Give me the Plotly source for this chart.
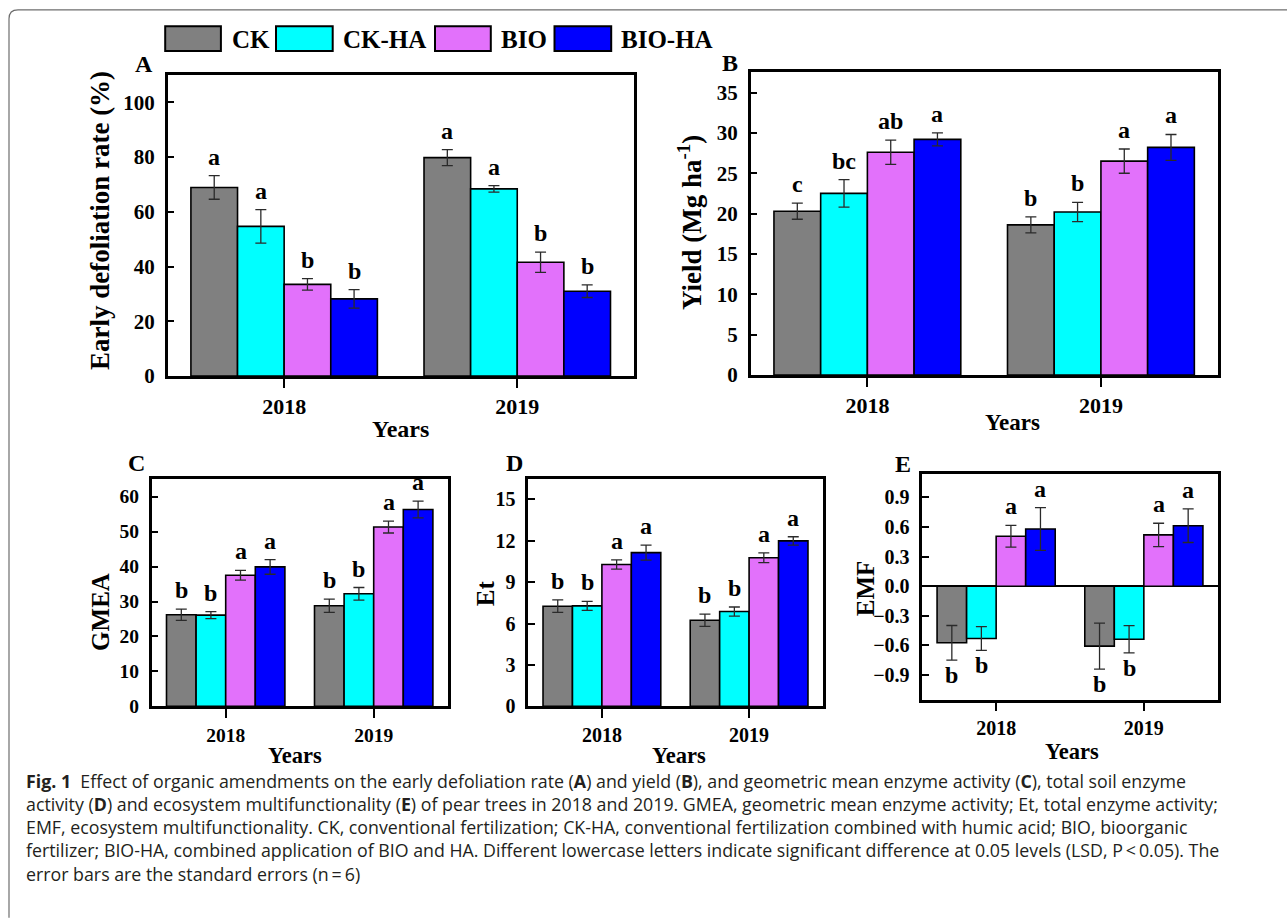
import plotly.graph_objects as go

W, H = 1287, 919
SERIF = "Liberation Serif"
SANS = "Open Sans"

years = ["2018", "2019"]
treatments = ["CK", "CK-HA", "BIO", "BIO-HA"]
bar_colors = ["#808080", "#00FFFF", "#E271FB", "#0000FF"]

# rows = treatments (CK, CK-HA, BIO, BIO-HA), columns = years (2018, 2019)
defol_mean = [[68.9, 79.8], [54.7, 68.4], [33.5, 41.6], [28.2, 31.0]]
defol_se = [[4.3, 2.9], [6.1, 1.2], [2.1, 3.7], [3.4, 2.3]]
defol_letters = [["a", "a"], ["a", "a"], ["b", "b"], ["b", "b"]]

yield_mean = [[20.3, 18.6], [22.5, 20.2], [27.6, 26.5], [29.2, 28.2]]
yield_se = [[1.0, 1.0], [1.7, 1.2], [1.5, 1.5], [0.8, 1.6]]
yield_letters = [["c", "b"], ["bc", "b"], ["ab", "a"], ["a", "a"]]

gmea_mean = [[26.2, 28.8], [26.1, 32.2], [37.5, 51.3], [39.9, 56.3]]
gmea_se = [[1.6, 1.9], [1.0, 1.8], [1.4, 1.7], [2.1, 2.4]]
gmea_letters = [["b", "b"], ["b", "b"], ["a", "a"], ["a", "a"]]

et_mean = [[7.26, 6.24], [7.28, 6.87], [10.28, 10.77], [11.14, 11.99]]
et_se = [[0.45, 0.45], [0.33, 0.33], [0.33, 0.35], [0.55, 0.30]]
et_letters = [["b", "b"], ["b", "b"], ["a", "a"], ["a", "a"]]

emf_mean = [[-0.573, -0.607], [-0.530, -0.537], [0.507, 0.520], [0.580, 0.613]]
emf_se = [[0.175, 0.233], [0.120, 0.138], [0.110, 0.118], [0.217, 0.170]]
emf_letters = [["b", "b"], ["b", "b"], ["a", "a"], ["a", "a"]]

caption_lines = [
    "<b>Fig. 1</b>  Effect of organic amendments on the early defoliation rate (<b>A</b>) and yield (<b>B</b>), and geometric mean enzyme activity (<b>C</b>), total soil enzyme",
    "activity (<b>D</b>) and ecosystem multifunctionality (<b>E</b>) of pear trees in 2018 and 2019. GMEA, geometric mean enzyme activity; Et, total enzyme activity;",
    "EMF, ecosystem multifunctionality. CK, conventional fertilization; CK-HA, conventional fertilization combined with humic acid; BIO, bioorganic",
    "fertilizer; BIO-HA, combined application of BIO and HA. Different lowercase letters indicate significant difference at 0.05 levels (LSD, P\u2009<\u20090.05). The",
    "error bars are the standard errors (n\u2009=\u20096)",
]


def fx(x):
    return x / W


def fy(y):
    return 1 - y / H


# panel layout in pixels: (left, right, top, bottom)
panels = [
    dict(name="A", mean=defol_mean, se=defol_se, letters=defol_letters,
         box=(167.6, 633.8, 76.0, 381.0), yrange=[0, 110], dtick=20, fmt="",
         ytitle="Early defoliation rate (%)", ytitle_pos=(100, 224), ytitle_size=27,
         label_pos=(144, 65), xtitle_pos=(400, 435), xtitle_size=24,
         tick_size=21, xtick_size=22, zero=False),
    dict(name="B", mean=yield_mean, se=yield_se, letters=yield_letters,
         box=(750.6, 1217.7, 73.3, 380.0), yrange=[0, 37.5], dtick=5, fmt="",
         ytitle="Yield (Mg ha<sup>-1</sup>)", ytitle_pos=(690, 226), ytitle_size=27,
         label_pos=(730, 64), xtitle_pos=(1012, 428), xtitle_size=23,
         tick_size=21, xtick_size=22, zero=False),
    dict(name="C", mean=gmea_mean, se=gmea_se, letters=gmea_letters,
         box=(151.7, 447.7, 485.5, 715.7), yrange=[0, 65], dtick=10, fmt="",
         ytitle="GMEA", ytitle_pos=(101, 620), ytitle_size=25,
         label_pos=(136, 469), xtitle_pos=(295, 766), xtitle_size=22.5,
         tick_size=19.5, xtick_size=19.5, zero=False),
    dict(name="D", mean=et_mean, se=et_se, letters=et_letters,
         box=(528.3, 822.7, 485.0, 715.7), yrange=[0, 16.5], dtick=3, fmt="",
         ytitle="Et", ytitle_pos=(485, 601), ytitle_size=25,
         label_pos=(514, 469), xtitle_pos=(679, 766), xtitle_size=22.5,
         tick_size=20, xtick_size=20, zero=False),
    dict(name="E", mean=emf_mean, se=emf_se, letters=emf_letters,
         box=(922.3, 1217.7, 480.0, 709.0), yrange=[-1.15, 1.14], dtick=0.3, fmt=".1f",
         ytitle="EMF", ytitle_pos=(865, 596), ytitle_size=25,
         label_pos=(903, 470), xtitle_pos=(1072, 761), xtitle_size=22.5,
         tick_size=20, xtick_size=20, zero=True),
]

fig = go.Figure()
annotations = []
shapes = []

BARGAP = 0.2
n_tr = len(treatments)
bar_w = (1 - BARGAP) / n_tr

for k, p in enumerate(panels, start=1):
    xa = "x" if k == 1 else f"x{k}"
    ya = "y" if k == 1 else f"y{k}"
    for j, tr in enumerate(treatments):
        fig.add_trace(go.Bar(
            x=years, y=p["mean"][j], name=tr, xaxis=xa, yaxis=ya,
            marker=dict(color=bar_colors[j], line=dict(color="black", width=1.6)),
            error_y=dict(type="data", array=p["se"][j], visible=True,
                         color="#2a2a2a", thickness=1.3, width=5.5),
            showlegend=False, hoverinfo="skip",
        ))
        # significance letters
        for i in range(len(years)):
            m = p["mean"][j][i]
            e = p["se"][j][i]
            pos = m >= 0
            annotations.append(dict(
                x=i + (j - (n_tr - 1) / 2) * bar_w, y=(m + e) if pos else (m - e),
                xref=xa, yref=ya, text="<b>%s</b>" % p["letters"][j][i],
                showarrow=False, xanchor="center",
                yanchor="bottom" if pos else "top", yshift=4 if pos else 0,
                font=dict(family=SERIF, size=24, color="black"),
            ))

    l, r, t, b = p["box"]
    xkey = "xaxis" if k == 1 else f"xaxis{k}"
    ykey = "yaxis" if k == 1 else f"yaxis{k}"
    fig.layout[xkey] = dict(
        domain=[fx(l), fx(r)], anchor=ya, type="category", range=[-0.5, 1.5],
        showline=True, mirror=True, linecolor="black", linewidth=2.5,
        ticks="outside", ticklen=9, tickwidth=2, tickcolor="black",
        showgrid=False, zeroline=False, fixedrange=True,
        tickfont=dict(family=SERIF, size=p["xtick_size"], color="black", weight="bold"),
    )
    fig.layout[ykey] = dict(
        domain=[fy(b), fy(t)], anchor=xa, range=p["yrange"], tick0=0, dtick=p["dtick"],
        tickformat=p["fmt"],
        showline=True, mirror=True, linecolor="black", linewidth=2.5,
        ticks="inside", ticklen=7, tickwidth=2, tickcolor="black",
        showgrid=False, zeroline=p["zero"], zerolinecolor="black", zerolinewidth=2,
        ticklabelstandoff=6, fixedrange=True,
        tickfont=dict(family=SERIF, size=p["tick_size"], color="black", weight="bold"),
    )
    # panel label
    annotations.append(dict(
        x=fx(p["label_pos"][0]), y=fy(p["label_pos"][1]), xref="paper", yref="paper",
        text="<b>%s</b>" % p["name"], showarrow=False, xanchor="center", yanchor="middle",
        font=dict(family=SERIF, size=24, color="black")))
    # y title
    annotations.append(dict(
        x=fx(p["ytitle_pos"][0]), y=fy(p["ytitle_pos"][1]), xref="paper", yref="paper",
        text="<b>%s</b>" % p["ytitle"], showarrow=False, textangle=-90,
        xanchor="center", yanchor="middle",
        font=dict(family=SERIF, size=p["ytitle_size"], color="black")))
    # x title
    annotations.append(dict(
        x=fx(p["xtitle_pos"][0]), y=fy(p["xtitle_pos"][1]), xref="paper", yref="paper",
        text="<b>Years</b>", showarrow=False, xanchor="center", yanchor="middle",
        font=dict(family=SERIF, size=p["xtitle_size"], color="black")))

# custom legend (large swatches)
legend_boxes = [(165.2, 220.9, 229.8), (276.0, 332.7, 340.7), (435.0, 490.8, 499.3), (554.5, 611.2, 619.2)]
for j, tr in enumerate(treatments):
    x0, x1, xt = legend_boxes[j]
    shapes.append(dict(type="rect", xref="paper", yref="paper",
                       x0=fx(x0), x1=fx(x1), y0=fy(51.7), y1=fy(26.7),
                       fillcolor=bar_colors[j], line=dict(color="black", width=2)))
    annotations.append(dict(x=fx(xt), y=fy(40), xref="paper", yref="paper",
                            text="<b>%s</b>" % tr, showarrow=False,
                            xanchor="left", yanchor="middle",
                            font=dict(family=SERIF, size=25, color="black")))

# caption (one multi-line text block)
annotations.append(dict(x=fx(24), y=fy(838), xref="paper", yref="paper",
                        text="<br>".join(caption_lines), showarrow=False,
                        xanchor="left", yanchor="middle", align="left",
                        font=dict(family=SANS, size=17.8, color="#231F20")))

# outer rounded frame
r = 9
path = (f"M {fx(1300)},{fy(10)} L {fx(9 + r)},{fy(10)} "
        f"Q {fx(9)},{fy(10)} {fx(9)},{fy(10 + r)} L {fx(9)},{fy(930)}")
shapes.append(dict(type="path", xref="paper", yref="paper", path=path,
                   line=dict(color="#6e6e6e", width=1.2)))

fig.update_layout(
    width=W, height=H, margin=dict(l=0, r=0, t=0, b=0),
    paper_bgcolor="white", plot_bgcolor="white",
    barmode="group", bargap=BARGAP, bargroupgap=0,
    showlegend=False, annotations=annotations, shapes=shapes,
    font=dict(family=SERIF, color="black"),
)

fig.write_html("out.html", config={"displayModeBar": False},
               post_script="document.body.style.margin='0';")
